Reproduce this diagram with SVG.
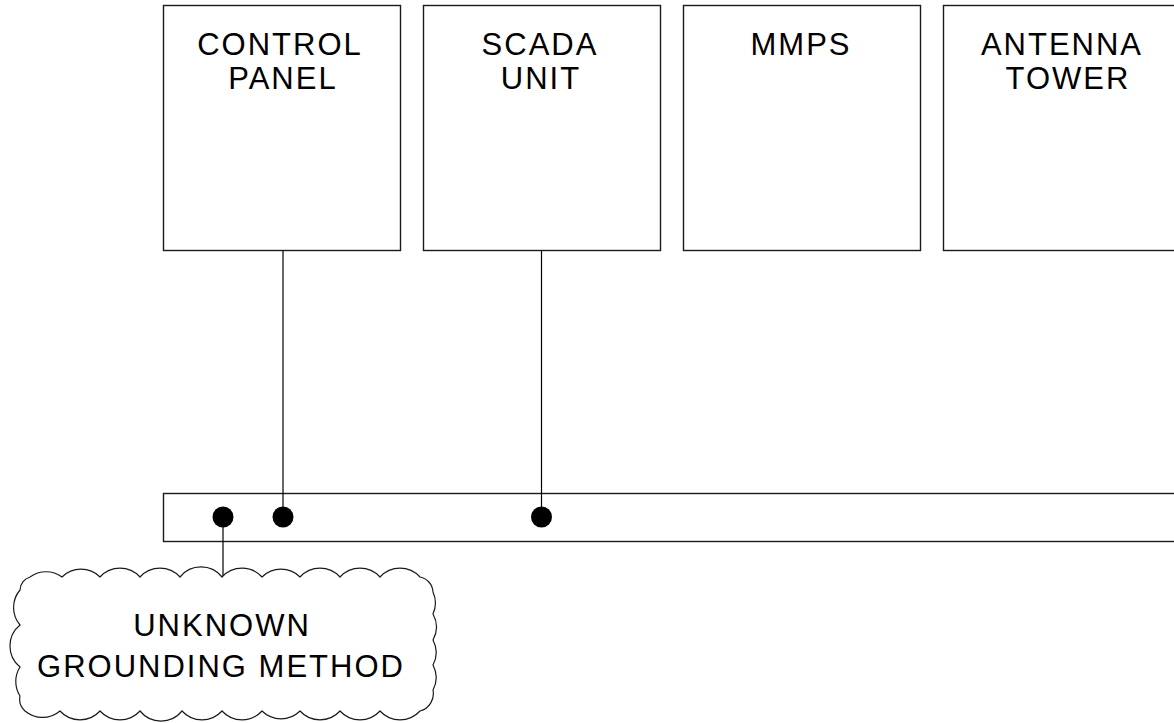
<svg xmlns="http://www.w3.org/2000/svg" width="1174" height="723" viewBox="0 0 1174 723">
<style>
.box{fill:#fff;stroke:#1a1a1a;stroke-width:1.4}
.lbl{font-family:"Liberation Sans",Arial,sans-serif;font-size:31px;letter-spacing:2px;fill:#000;text-anchor:middle}
.wire{stroke:#000;stroke-width:1.2;fill:none}
.dot{fill:#000}
</style>
<rect width="1174" height="723" fill="#fff"/>
<g id="control-panel">
<rect class="box" x="163.5" y="5.5" width="237" height="245"/>
<text class="lbl" x="280" y="55">CONTROL</text>
<text class="lbl" x="283" y="89">PANEL</text>
</g>
<g id="scada-unit">
<rect class="box" x="423.5" y="5.5" width="237" height="245"/>
<text class="lbl" x="540" y="55">SCADA</text>
<text class="lbl" x="541" y="89">UNIT</text>
</g>
<g id="mmps">
<rect class="box" x="683.5" y="5.5" width="237" height="245"/>
<text class="lbl" x="801" y="55">MMPS</text>
</g>
<g id="antenna-tower">
<rect class="box" x="943.5" y="5.5" width="237" height="245"/>
<text class="lbl" x="1062" y="55">ANTENNA</text>
<text class="lbl" x="1068" y="89">TOWER</text>
</g>
<g id="ground-bus">
<rect class="box" x="163.5" y="493.5" width="1020" height="48"/>
</g>
<g id="connectors">
<line class="wire" x1="283" y1="250.5" x2="283" y2="517"/>
<line class="wire" x1="541.5" y1="250.5" x2="541.5" y2="517"/>
<line class="wire" x1="223" y1="517" x2="223" y2="577"/>
<circle class="dot" cx="223" cy="517" r="10.5"/>
<circle class="dot" cx="283" cy="517" r="10.5"/>
<circle class="dot" cx="541.5" cy="517" r="10.5"/>
</g>
<g id="unknown-grounding">
<path fill="#fff" stroke="#1a1a1a" stroke-width="1.2" d="M20 590 A14 14 0 0 1 30 577 A27 27 0 0 1 62 577 A27 27 0 0 1 100 577 A27 27 0 0 1 140 577 A27 27 0 0 1 180 577 A27 27 0 0 1 222 577 A27 27 0 0 1 262 577 A27 27 0 0 1 300 577 A27 27 0 0 1 340 577 A27 27 0 0 1 380 577 A27 27 0 0 1 420 577 A16 16 0 0 1 433 592 A27 27 0 0 1 433 614 A27 27 0 0 1 433 640 A27 27 0 0 1 433 665 A27 27 0 0 1 433 690 A18 18 0 0 1 420 711 A27 27 0 0 1 380 711 A27 27 0 0 1 340 711 A27 27 0 0 1 300 711 A27 27 0 0 1 262 711 A27 27 0 0 1 222 711 A27 27 0 0 1 182 711 A27 27 0 0 1 140 711 A27 27 0 0 1 100 711 A27 27 0 0 1 60 711 A27 27 0 0 1 25 711 A16 16 0 0 1 20 696 A27 27 0 0 1 20 667 A27 27 0 0 1 20 625 A27 27 0 0 1 20 590 Z"/>
<text class="lbl" x="222" y="636">UNKNOWN</text>
<text class="lbl" x="221" y="677">GROUNDING METHOD</text>
</g>
</svg>
